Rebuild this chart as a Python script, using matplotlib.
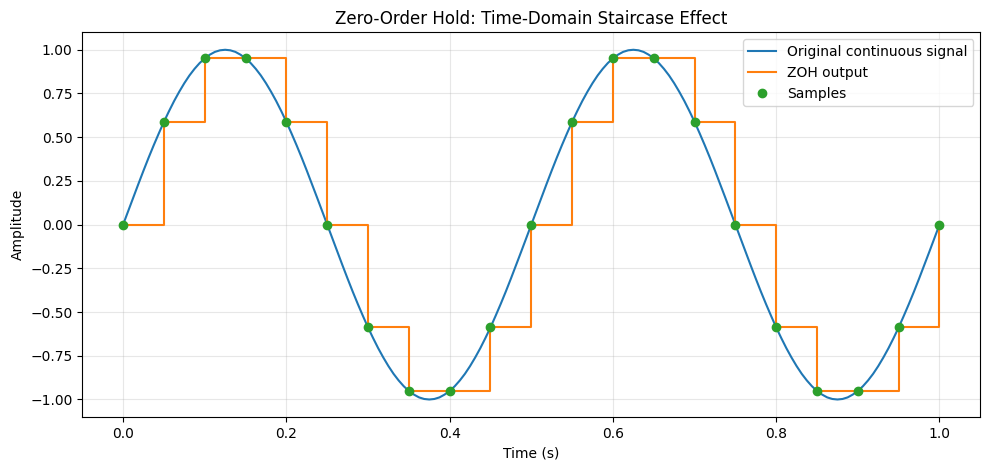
import matplotlib.pyplot as plt

# sample instants (s) and sampled values
t_samples = [0.00, 0.05, 0.10, 0.15, 0.20, 0.25, 0.30, 0.35, 0.40, 0.45, 0.50,
             0.55, 0.60, 0.65, 0.70, 0.75, 0.80, 0.85, 0.90, 0.95, 1.00]
x_samples = [0.0, 0.588, 0.951, 0.951, 0.588, 0.0, -0.588, -0.951, -0.951, -0.588, 0.0,
             0.588, 0.951, 0.951, 0.588, 0.0, -0.588, -0.951, -0.951, -0.588, 0.0]

# continuous signal read at 0.00625 s steps (161 points)
t_cont = [i * 0.00625 for i in range(161)]
x_cont = [
    0.0, 0.078, 0.156, 0.233, 0.309, 0.383, 0.454, 0.522, 0.588, 0.649,
    0.707, 0.760, 0.809, 0.853, 0.891, 0.924, 0.951, 0.972, 0.988, 0.997,
    1.0, 0.997, 0.988, 0.972, 0.951, 0.924, 0.891, 0.853, 0.809, 0.760,
    0.707, 0.649, 0.588, 0.522, 0.454, 0.383, 0.309, 0.233, 0.156, 0.078,
    0.0, -0.078, -0.156, -0.233, -0.309, -0.383, -0.454, -0.522, -0.588, -0.649,
    -0.707, -0.760, -0.809, -0.853, -0.891, -0.924, -0.951, -0.972, -0.988, -0.997,
    -1.0, -0.997, -0.988, -0.972, -0.951, -0.924, -0.891, -0.853, -0.809, -0.760,
    -0.707, -0.649, -0.588, -0.522, -0.454, -0.383, -0.309, -0.233, -0.156, -0.078,
    0.0, 0.078, 0.156, 0.233, 0.309, 0.383, 0.454, 0.522, 0.588, 0.649,
    0.707, 0.760, 0.809, 0.853, 0.891, 0.924, 0.951, 0.972, 0.988, 0.997,
    1.0, 0.997, 0.988, 0.972, 0.951, 0.924, 0.891, 0.853, 0.809, 0.760,
    0.707, 0.649, 0.588, 0.522, 0.454, 0.383, 0.309, 0.233, 0.156, 0.078,
    0.0, -0.078, -0.156, -0.233, -0.309, -0.383, -0.454, -0.522, -0.588, -0.649,
    -0.707, -0.760, -0.809, -0.853, -0.891, -0.924, -0.951, -0.972, -0.988, -0.997,
    -1.0, -0.997, -0.988, -0.972, -0.951, -0.924, -0.891, -0.853, -0.809, -0.760,
    -0.707, -0.649, -0.588, -0.522, -0.454, -0.383, -0.309, -0.233, -0.156, -0.078,
    0.0,
]


def main():
    fig, ax = plt.subplots(figsize=(9.89, 4.70), dpi=100)

    ax.plot(t_cont, x_cont, label="Original continuous signal")
    ax.step(t_samples, x_samples, where="post", label="ZOH output")
    ax.plot(t_samples, x_samples, "o", label="Samples")

    ax.set_title("Zero-Order Hold: Time-Domain Staircase Effect")
    ax.set_xlabel("Time (s)")
    ax.set_ylabel("Amplitude")
    ax.grid(True, alpha=0.3)
    ax.legend(loc="upper right")

    fig.subplots_adjust(left=0.0832, right=0.9912, top=0.9313, bottom=0.1128)
    fig.savefig("out.png")


if __name__ == "__main__":
    main()
